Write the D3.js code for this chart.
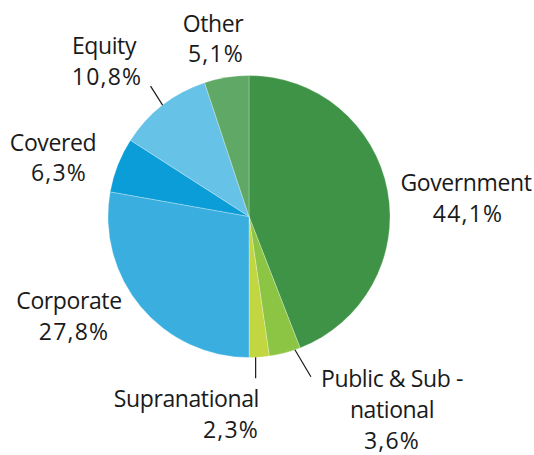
<!DOCTYPE html>
<meta charset="utf-8">
<style>
  body { margin: 0; background: #fff; }
  .label { font-family: "Open Sans", sans-serif; font-size: 23px; fill: #1a1a1a; }
  .label .word { letter-spacing: -0.4px; }
  .label .pct { letter-spacing: 1.2px; }
  .leader { stroke: #1a1a1a; stroke-width: 1.2; fill: none; }
</style>
<body>
<script src="https://d3js.org/d3.v7.min.js"></script>
<script>
  // data, clockwise from 12 o'clock
  var names = ["Government", "Public & Sub -\nnational", "Supranational", "Corporate", "Covered", "Equity", "Other"];
  var shares = [44.1, 3.6, 2.3, 27.8, 6.3, 10.8, 5.1];
  var colors = ["#3e9346", "#8bc543", "#c1d641", "#3aafdf", "#0b9dd8", "#67c2e8", "#5fa866"];

  // label layout (text anchor point, first baseline) and leader lines
  var labelLayout = [
    { x: 466, y: 191, anchor: "middle", dx2: 2 },
    { x: 392, y: 387, anchor: "middle", lead: { a: 161, dx: 16, dy: 27 } },
    { x: 259, y: 407, anchor: "end", lead: { a: 177.3, dx: 0, dy: 21 } },
    { x: 69, y: 309, anchor: "middle", dx2: 5 },
    { x: 53, y: 151, anchor: "middle", dx2: 6, gap: 30 },
    { x: 104, y: 54, anchor: "middle", dx2: 3, lead: { a: 322.2, dx: -12, dy: -19 } },
    { x: 213, y: 32, anchor: "middle", dx2: 3, gap: 30 }
  ];

  var width = 534, height = 455;
  var cx = 249, cy = 216.5, r = 141;

  var svg = d3.select("body").append("svg")
      .attr("width", width)
      .attr("height", height);

  var pie = d3.pie().sort(null).value(function(d) { return d; });
  var arc = d3.arc().innerRadius(0).outerRadius(r);
  var arcs = pie(shares);

  var g = svg.append("g").attr("transform", "translate(" + cx + "," + cy + ")");

  g.selectAll("path.slice")
    .data(arcs)
    .enter().append("path")
      .attr("class", "slice")
      .attr("d", arc)
      .attr("fill", function(d, i) { return colors[i]; })
      .attr("stroke", "rgba(255,255,255,0.45)")
      .attr("stroke-width", 0.6);

  labelLayout.forEach(function(l, i) {
    if (l.lead) {
      var a = l.lead.a * Math.PI / 180;
      var x0 = cx + r * Math.sin(a), y0 = cy - r * Math.cos(a);
      svg.append("line").attr("class", "leader")
        .attr("x1", x0).attr("y1", y0)
        .attr("x2", x0 + l.lead.dx).attr("y2", y0 + l.lead.dy);
    }
    var lines = names[i].split("\n").concat([d3.format(".1f")(shares[i]).replace(".", ",") + "%"]);
    var gap = l.gap || 31;
    var t = svg.append("text").attr("class", "label").attr("text-anchor", l.anchor);
    lines.forEach(function(s, j) {
      var last = j === lines.length - 1;
      t.append("tspan")
        .attr("class", last ? "pct" : "word")
        .attr("x", l.x + (last ? (l.dx2 || 0) : 0))
        .attr("y", l.y + j * gap)
        .text(s);
    });
  });
</script>
</body>
